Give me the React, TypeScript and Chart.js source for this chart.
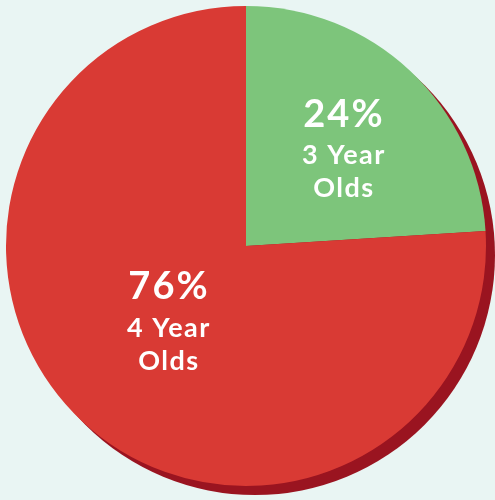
import React, { useEffect, useRef } from "react";
import { Chart, registerables } from "chart.js";

Chart.register(...registerables);

const categories = ["3 Year Olds", "4 Year Olds"];
const percentages = [24, 76];
const sliceColors = ["#7dc57b", "#d93a34"];
const labelLines = [["3 Year", "Olds"], ["4 Year", "Olds"]];
const labelRadius = [0.59, 0.475];
const labelShiftY = [10, -4];

const shadowPlugin = {
  id: "shadowPlugin",
  beforeDatasetsDraw(chart: any) {
    const meta = chart.getDatasetMeta(0);
    const arc = meta.data[0];
    if (!arc) return;
    const { x, y, outerRadius } = arc.getProps(["x", "y", "outerRadius"], true);
    const ctx = chart.ctx;
    ctx.save();
    ctx.fillStyle = "#9a1420";
    ctx.beginPath();
    ctx.arc(x + 9, y + 9, outerRadius, 0, Math.PI * 2);
    ctx.fill();
    ctx.restore();
  },
};

const labelPlugin = {
  id: "labelPlugin",
  afterDatasetsDraw(chart: any) {
    const meta = chart.getDatasetMeta(0);
    const ctx = chart.ctx;
    ctx.save();
    ctx.fillStyle = "#ffffff";
    ctx.textAlign = "center";
    ctx.textBaseline = "middle";
    meta.data.forEach((arc: any, i: number) => {
      const { x, y, startAngle, endAngle, outerRadius } = arc.getProps(
        ["x", "y", "startAngle", "endAngle", "outerRadius"],
        true
      );
      const mid = (startAngle + endAngle) / 2;
      const r = outerRadius * labelRadius[i];
      const cx = x + Math.cos(mid) * r;
      const cy = y + Math.sin(mid) * r + labelShiftY[i];
      ctx.font = "bold 38px Lato, 'DejaVu Sans', sans-serif";
      (ctx as any).letterSpacing = "2px";
      ctx.fillText(percentages[i] + "%", cx + 1, cy - 38);
      ctx.font = "bold 27px Lato, 'DejaVu Sans', sans-serif";
      (ctx as any).letterSpacing = "1.5px";
      ctx.fillText(labelLines[i][0], cx + 1, cy + 3);
      ctx.fillText(labelLines[i][1], cx + 1, cy + 36);
    });
    ctx.restore();
  },
};

export default function App() {
  const ref = useRef<HTMLCanvasElement>(null);
  useEffect(() => {
    document.body.style.margin = "0";
    document.body.style.background = "#e9f5f3";
    const chart = new Chart(ref.current!, {
      type: "pie",
      data: {
        labels: categories,
        datasets: [
          {
            data: percentages,
            backgroundColor: sliceColors,
            borderWidth: 0,
          },
        ],
      },
      options: {
        animation: false,
        responsive: false,
        maintainAspectRatio: false,
        layout: { padding: { left: 6, top: 6, right: 9, bottom: 14 } },
        plugins: {
          legend: { display: false },
          tooltip: { enabled: false },
        },
      },
      plugins: [shadowPlugin, labelPlugin],
    });
    return () => chart.destroy();
  }, []);
  return (
    <div style={{ position: "fixed", left: 0, top: 0, width: 495, height: 500, background: "#e9f5f3" }}>
      <canvas ref={ref} width={495} height={500} style={{ width: 495, height: 500 }} />
    </div>
  );
}
